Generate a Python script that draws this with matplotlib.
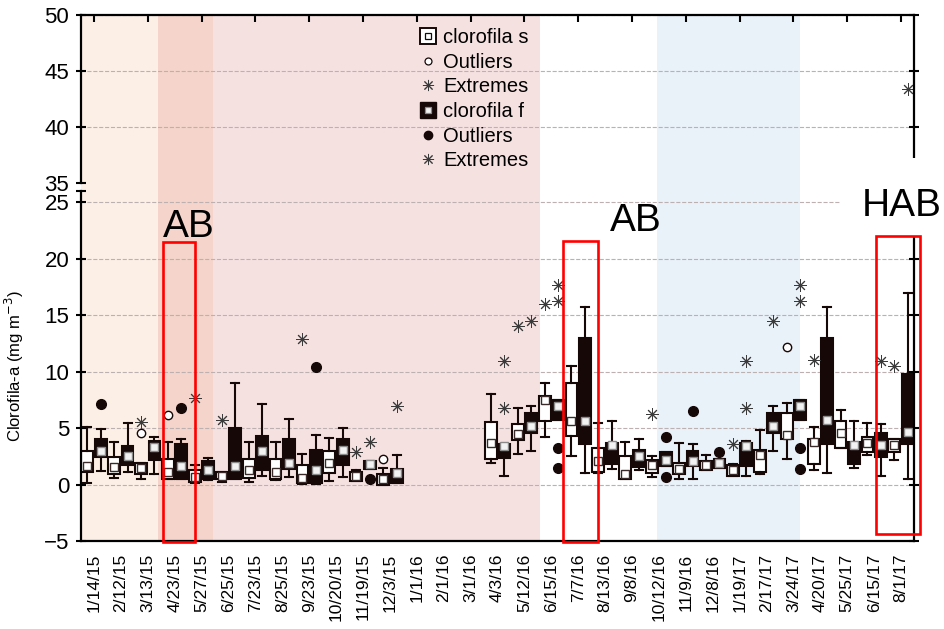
import matplotlib
matplotlib.use('Agg')
import matplotlib.pyplot as plt
from matplotlib.lines import Line2D
from matplotlib.patches import Rectangle

plt.rcParams['font.family'] = ['Liberation Sans', 'DejaVu Sans']

dates = ['1/14/15', '2/12/15', '3/13/15', '4/23/15', '5/27/15', '6/25/15', '7/23/15',
         '8/25/15', '9/23/15', '10/20/15', '11/19/15', '12/3/15', '1/1/16', '2/1/16',
         '3/1/16', '4/3/16', '5/12/16', '6/15/16', '7/7/16', '8/13/16', '9/8/16',
         '10/12/16', '11/9/16', '12/8/16', '1/19/17', '2/17/17', '3/24/17', '4/20/17',
         '5/25/17', '6/15/17', '8/1/17']

# whisker low, Q1, median, Q3, whisker high  (None = no sampling)
clor_s = [
    (0.15, 1.1, 1.6, 2.95, 5.1), (0.6, 0.9, 1.55, 2.45, 3.8), (0.5, 0.9, 1.45, 1.9, 1.9),
    (0.45, 0.45, 1.1, 2.25, 3.75), (0.1, 0.2, 0.65, 1.25, 1.7), (0.2, 0.45, 0.8, 1.1, 1.1),
    (0.2, 0.6, 1.3, 2.3, 3.75), (0.4, 0.5, 1.1, 2.25, 3.75), (0.05, 0.1, 0.6, 1.7, 2.7),
    (0.35, 1.05, 1.9, 2.95, 4.1), (0.3, 0.3, 0.75, 1.1, 1.25), (0.0, 0.0, 0.5, 0.9, 1.45),
    None, None, None,
    (1.95, 2.3, 3.7, 5.55, 8.0), (2.75, 3.95, 4.5, 5.35, 6.8), (4.25, 5.6, 7.5, 7.85, 9.0),
    (2.5, 4.3, 5.6, 9.0, 10.5), (1.05, 1.1, 2.05, 3.25, 5.45), (0.45, 0.45, 0.9, 2.5, 3.75),
    (0.65, 1.05, 1.75, 2.2, 2.5), (0.45, 0.9, 1.4, 1.95, 3.7), (1.3, 1.3, 1.7, 2.05, 2.65),
    (0.8, 0.8, 1.3, 1.75, 1.8), (0.95, 1.1, 2.6, 3.1, 4.85), (2.3, 4.0, 4.4, 6.3, 7.2),
    (1.25, 1.8, 3.8, 4.05, 5.1), (3.25, 3.25, 4.55, 5.6, 6.6), (2.65, 2.9, 3.7, 4.25, 5.45),
    (2.2, 2.9, 3.5, 4.0, 4.0),
]
clor_f = [
    (1.2, 2.45, 2.95, 4.0, 4.9), (1.1, 1.7, 2.55, 3.45, 5.45), (0.95, 2.15, 3.3, 3.9, 4.25),
    (0.5, 0.5, 1.6, 3.55, 4.05), (0.4, 0.45, 1.3, 2.05, 2.35), (0.5, 0.5, 1.6, 5.05, 9.0),
    (0.75, 1.25, 2.95, 4.3, 7.15), (0.7, 1.4, 1.95, 4.0, 5.85), (0.05, 0.15, 1.25, 3.1, 4.4),
    (0.65, 1.75, 3.1, 4.0, 5.0), (1.4, 1.4, 1.8, 2.1, 2.1), (0.1, 0.1, 1.0, 1.4, 2.65),
    None, None, None,
    (0.75, 2.35, 3.4, 3.6, 3.6), (2.95, 4.55, 5.2, 6.3, 6.95), (5.75, 5.75, 7.0, 7.5, 7.5),
    (1.05, 3.6, 5.65, 12.95, 15.75), (1.4, 1.85, 3.5, 3.7, 5.6), (1.25, 1.55, 2.55, 3.05, 4.0),
    (1.6, 1.6, 2.2, 2.85, 2.85), (0.45, 1.6, 2.05, 2.95, 3.55), (1.45, 1.45, 1.9, 2.25, 2.25),
    (0.75, 1.6, 3.4, 3.7, 3.9), (2.95, 4.55, 5.2, 6.3, 6.95), (5.75, 5.75, 7.0, 7.5, 7.5),
    (1.05, 3.6, 5.7, 12.95, 15.75), (1.45, 1.85, 3.5, 3.8, 5.6), (0.75, 2.45, 3.5, 4.55, 5.35),
    (0.5, 3.55, 4.65, 9.75, 17.0),
]

# outliers / extremes by sampling index
s_outliers = {2: [4.55], 3: [6.15], 11: [2.25], 26: [12.2]}
s_extremes = {2: [5.5], 4: [7.65], 5: [5.7], 8: [12.85], 10: [2.85], 16: [14.0],
              17: [15.95], 21: [6.25], 24: [3.55], 27: [11.0], 30: [10.5]}
f_outliers = {0: [7.15], 3: [6.75], 8: [10.4], 10: [0.5], 17: [3.25, 1.45],
              21: [4.2, 0.65], 22: [6.5], 23: [2.9], 26: [3.25, 1.4]}
f_extremes = {10: [3.8], 11: [7.0], 15: [6.8, 10.95], 16: [14.5], 17: [16.3, 17.7],
              24: [6.8, 10.9], 25: [14.5], 26: [16.3, 17.7], 29: [10.9], 30: [43.4]}

dark = '#170808'
ast = (8, 2, 0)

W, H = 944, 629
fig = plt.figure(figsize=(W / 100, H / 100), dpi=100)

left, right = 81 / W, 914 / W
low_b, low_t = 1 - 541 / H, 1 - 191 / H
top_b, top_t = 1 - 183 / H, 1 - 15 / H
xlim = (-0.48, 30.48)

# background seasons shading spanning both panels
ax_bg = fig.add_axes([left, low_b, right - left, top_t - low_b])
ax_bg.set_xlim(xlim)
ax_bg.axis('off')
ax_bg.axvspan(xlim[0], 2.38, color='#fcefe6', lw=0)
ax_bg.axvspan(2.38, 4.42, color='#f5d4cb', lw=0)
ax_bg.axvspan(4.42, 16.58, color='#f6e1e1', lw=0)
ax_bg.axvspan(20.93, 26.25, color='#e9f1f9', lw=0)

ax_top = fig.add_axes([left, top_b, right - left, top_t - top_b])
ax = fig.add_axes([left, low_b, right - left, low_t - low_b])
for a in (ax_top, ax):
    a.set_facecolor('none')
    a.set_xlim(xlim)
    for sp in a.spines.values():
        sp.set_linewidth(1.6)
    a.grid(axis='y', ls='--', lw=0.8, color='#bdb0b0')
    a.set_axisbelow(True)

ax_top.set_ylim(35, 50)
ax_top.set_yticks([35, 40, 45, 50])
ax_top.spines['bottom'].set_visible(False)
ax_top.get_ygridlines()[0].set_visible(False)
ax_top.set_xticks(range(0, 31, 2))
ax_top.tick_params(axis='x', bottom=False, top=True, labelbottom=False,
                   direction='in', length=5, width=1.5)
ax_top.tick_params(axis='y', direction='inout', length=7, width=1.5, labelsize=16, pad=5,
                   right=True)

ax.set_ylim(-5, 26)
ax.set_yticks(range(-5, 26, 5))
ax.set_yticks([26], minor=True)
ax.spines['top'].set_visible(False)
ax.set_xticks(range(len(dates)))
ax.set_xticklabels(dates, rotation=90, fontsize=12.5)
ax.set_xticks(range(0, 31, 2), minor=True)
ax.tick_params(axis='x', which='major', length=0, pad=9)
ax.tick_params(axis='x', which='minor', direction='in', length=5, width=1.5)
ax.tick_params(axis='y', which='both', direction='inout', length=7, width=1.5, labelsize=16,
               pad=5, right=True)
ax.set_ylabel('Clorofila-a (mg m$^{-3}$)', fontsize=12)
ax.yaxis.set_label_coords(-0.066, 0.5)


def draw_series(stats, offset, face, edge, medface, medge):
    pos, bst = [], []
    for i, st in enumerate(stats):
        if st is None:
            continue
        lo, q1, med, q3, hi = st
        bst.append(dict(whislo=lo, q1=q1, med=med, q3=q3, whishi=hi, fliers=[]))
        pos.append(i + offset)
    ax.bxp(bst, positions=pos, widths=0.44, capwidths=0.3, patch_artist=True,
           showfliers=False, manage_ticks=False,
           boxprops=dict(facecolor=face, edgecolor=edge, linewidth=1.5),
           whiskerprops=dict(color=edge, linewidth=1.5),
           capprops=dict(color=edge, linewidth=1.5),
           medianprops=dict(linewidth=0))
    # median drawn as a small square
    ax.plot(pos, [b['med'] for b in bst], ls='none', marker='s', ms=5.5,
            mfc=medface, mec=medge, mew=1.0)


def draw_points(points, offset, **kw):
    for i, vals in points.items():
        for v in vals:
            target = ax_top if v > 26 else ax
            target.plot(i + offset, v, ls='none', **kw)


draw_series(clor_s, -0.25, 'white', dark, 'white', '#3a2a2a')
draw_series(clor_f, 0.25, dark, dark, '#f2f2f2', '#8a8a8a')
draw_points(s_outliers, -0.25, marker='o', ms=6, mfc='white', mec=dark, mew=1.0)
draw_points(f_outliers, 0.25, marker='o', ms=7, mfc=dark, mec=dark)
draw_points(s_extremes, -0.25, marker=ast, ms=9, color='#3a3a3a', mew=0.7)
draw_points(f_extremes, 0.25, marker=ast, ms=9, color='#3a3a3a', mew=0.7)

# blank area behind the HAB label
ax.add_artist(Rectangle((840 / W, 1 - 236 / H), 104 / W, 78 / H, transform=fig.transFigure,
                        fc='white', ec='none', clip_on=False, zorder=20))

# bloom events
for x0, x1, y0, y1 in [(2.565, 3.755, -5.1, 21.5), (17.43, 18.74, -5.1, 21.6),
                       (29.07, 30.71, -4.4, 22.05)]:
    ax.add_patch(Rectangle((x0, y0), x1 - x0, y1 - y0, fill=False, ec='#ff0000', lw=1.9,
                           clip_on=False, zorder=21))
for x, y, s in [(2.565, 21.9, 'AB'), (19.18, 22.5, 'AB'), (28.55, 23.8, 'HAB')]:
    ax.text(x, y, s, fontsize=28, va='baseline', ha='left', zorder=22, clip_on=False)

s_box = (Line2D([], [], ls='none', marker='s', ms=11, mfc='white', mec=dark, mew=1.4),
         Line2D([], [], ls='none', marker='s', ms=4.5, mfc='white', mec=dark, mew=0.9))
f_box = (Line2D([], [], ls='none', marker='s', ms=12, mfc=dark, mec=dark),
         Line2D([], [], ls='none', marker='s', ms=5, mfc='#f2f2f2', mec='#8a8a8a', mew=0.9))
s_out = Line2D([], [], ls='none', marker='o', ms=5, mfc='white', mec=dark, mew=0.9)
f_out = Line2D([], [], ls='none', marker='o', ms=6, mfc=dark, mec=dark)
ext = Line2D([], [], ls='none', marker=ast, ms=8, color='#3a3a3a', mew=0.7)
ax_top.legend([s_box, s_out, ext, f_box, f_out, ext],
              ['clorofila s', 'Outliers', 'Extremes', 'clorofila f', 'Outliers', 'Extremes'],
              loc='upper left', bbox_to_anchor=(408 / W, 1 - 18 / H),
              bbox_transform=fig.transFigure, frameon=False, fontsize=14.5, borderpad=0,
              handlelength=1.0, handletextpad=0.25, labelspacing=0.28)

fig.savefig('out.png', dpi=100)
